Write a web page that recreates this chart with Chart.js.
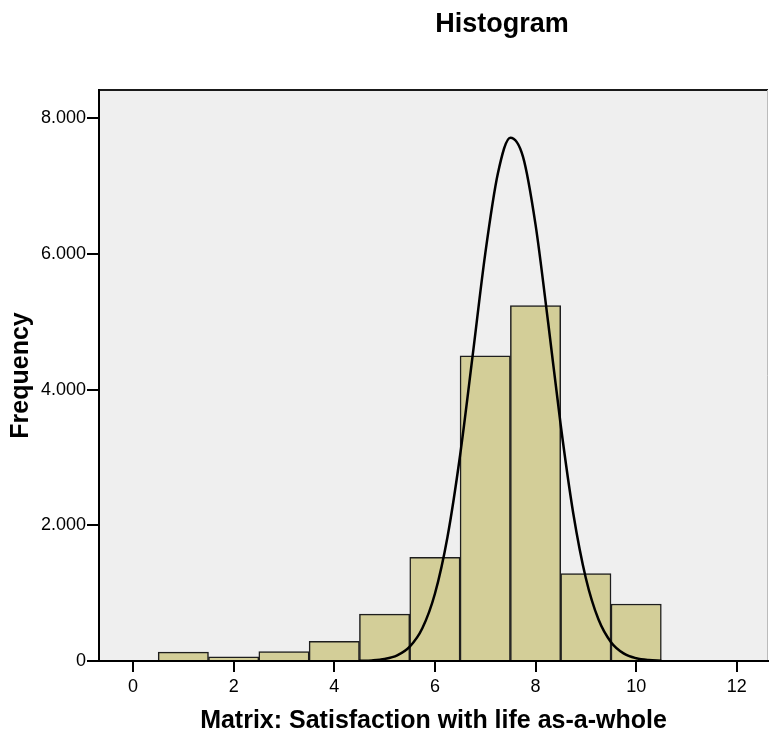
<!DOCTYPE html>
<html>
<head>
<meta charset="utf-8">
<script src="https://cdn.jsdelivr.net/npm/chart.js@4/dist/chart.umd.min.js"></script>
<style>
  html, body { margin: 0; padding: 0; background: #fff; }
  #box { width: 769px; height: 736px; }
</style>
</head>
<body>
<div id="box"><canvas id="chartHistograma"></canvas></div>
<script>
// valores
const centrosClasses = [1, 2, 3, 4, 5, 6, 7, 8, 9, 10];
const frequencias = [130, 60, 140, 290, 690, 1530, 4500, 5240, 1290, 840];

// curva normal, lida ponto a ponto
const curvaX = [4.5, 4.75, 5, 5.25, 5.5, 5.75, 6, 6.25, 6.5, 6.75, 7, 7.25, 7.5, 7.75, 8, 8.25, 8.5, 8.75, 9, 9.25, 9.5, 9.75, 10, 10.25, 10.5];
const curvaY = [3, 9, 29, 82, 211, 482, 991, 1829, 3029, 4501, 6002, 7183, 7714, 7435, 6432, 4993, 3479, 2175, 1221, 615, 278, 113, 41, 13, 4];

const ticksY = [0, 2000, 4000, 6000, 8000];

const titulo = 'Histogram';
const tituloX = 'Matrix: Satisfaction with life as-a-whole';
const tituloY = 'Frequency';

function formatarMilhar(v){
    if (v === 0) return '0';
    return (v / 1000).toFixed(3);
}

// fundo cinza da area do grafico + titulo
const pluginFundo = {
    id: 'fundo',
    beforeDraw(chart){
        const {ctx, chartArea} = chart;
        ctx.save();
        ctx.fillStyle = '#efefef';
        ctx.fillRect(chartArea.left, chartArea.top, chartArea.right - chartArea.left, chartArea.bottom - chartArea.top);
        ctx.strokeStyle = '#1a1a1a';
        ctx.lineWidth = 2;
        ctx.beginPath();
        ctx.moveTo(chartArea.left, chartArea.top);
        ctx.lineTo(chartArea.right, chartArea.top);
        ctx.stroke();
        ctx.strokeStyle = '#bbbbbb';
        ctx.lineWidth = 1;
        ctx.beginPath();
        ctx.moveTo(chartArea.right - 0.5, chartArea.top);
        ctx.lineTo(chartArea.right - 0.5, chartArea.bottom);
        ctx.stroke();

        ctx.fillStyle = '#000';
        ctx.font = 'bold 27px "Liberation Sans", Arial, sans-serif';
        ctx.textAlign = 'center';
        ctx.textBaseline = 'middle';
        ctx.fillText(titulo, 502, 25);
        ctx.restore();
    }
};

const ctx = document.getElementById('chartHistograma');

new Chart(ctx, {
    type: 'bar',
    data: {
        datasets: [
            {
                type: 'line',
                label: 'Normal',
                data: curvaX.map((x, i) => ({x: x, y: curvaY[i]})),
                borderColor: '#000',
                borderWidth: 2.5,
                pointRadius: 0,
                fill: false,
                cubicInterpolationMode: 'monotone',
                order: 0
            },
            {
                label: 'Frequency',
                data: centrosClasses.map((x, i) => ({x: x, y: frequencias[i]})),
                backgroundColor: '#d3ce98',
                borderColor: '#1e1e1e',
                borderWidth: 1.5,
                barPercentage: 1,
                categoryPercentage: 1,
                order: 1
            }
        ]
    },
    options: {
        responsive: true,
        maintainAspectRatio: false,
        animation: false,
        layout: {
            padding: {top: 90, left: 0, right: 1, bottom: 0}
        },
        plugins: {
            legend: {display: false},
            tooltip: {enabled: false},
            title: {display: false}
        },
        scales: {
            x: {
                type: 'linear',
                min: -0.676,
                max: 12.62,
                offset: false,
                grid: {
                    offset: false,
                    drawOnChartArea: false,
                    drawTicks: true,
                    tickLength: 11,
                    color: '#000',
                    lineWidth: 2
                },
                border: {color: '#000', width: 2},
                ticks: {
                    stepSize: 2,
                    includeBounds: false,
                    color: '#000',
                    padding: 4,
                    maxRotation: 0,
                    font: {family: '"Liberation Sans", Arial, sans-serif', size: 18}
                },
                title: {
                    display: true,
                    text: tituloX,
                    color: '#000',
                    padding: {top: 4, bottom: 0},
                    font: {family: '"Liberation Sans", Arial, sans-serif', size: 25, weight: 'bold'}
                },
                afterFit(scale){ scale.height = 75; }
            },
            y: {
                type: 'linear',
                min: 0,
                max: 8417,
                grid: {
                    drawOnChartArea: false,
                    drawTicks: true,
                    tickLength: 12,
                    color: '#000',
                    lineWidth: 2
                },
                border: {color: '#000', width: 2},
                afterBuildTicks(scale){
                    scale.ticks = ticksY.map(v => ({value: v}));
                },
                ticks: {
                    color: '#000',
                    padding: 1,
                    callback: (v) => formatarMilhar(v),
                    font: {family: '"Liberation Sans", Arial, sans-serif', size: 18}
                },
                title: {
                    display: true,
                    text: tituloY,
                    color: '#000',
                    padding: {top: 6, bottom: 4},
                    font: {family: '"Liberation Sans", Arial, sans-serif', size: 25, weight: 'bold'}
                },
                afterFit(scale){ scale.width = 99; }
            }
        }
    },
    plugins: [pluginFundo]
});
</script>
</body>
</html>
